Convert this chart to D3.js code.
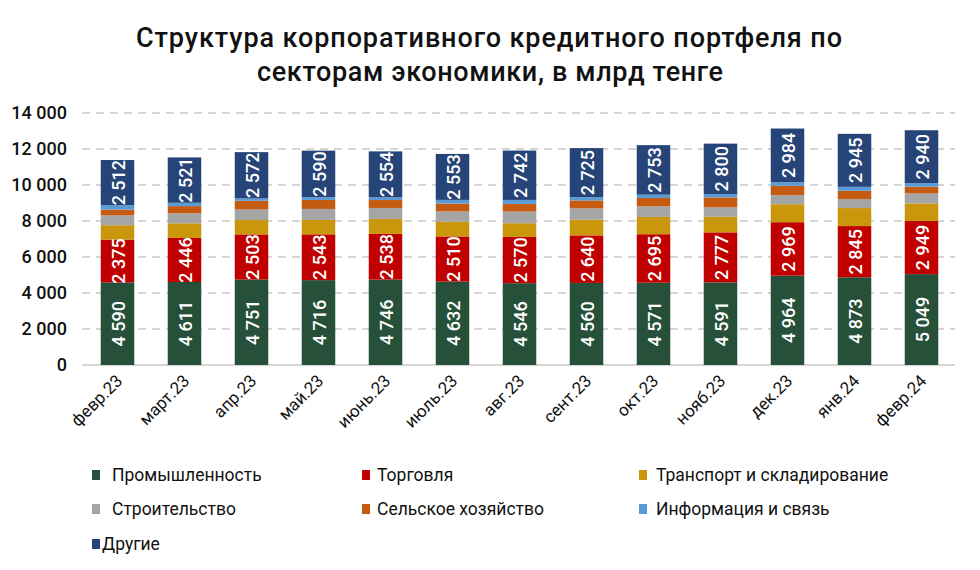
<!DOCTYPE html>
<html><head><meta charset="utf-8">
<script src="https://cdn.jsdelivr.net/npm/d3@7"></script>
<style>
body{margin:0;background:#fff;}
text{font-family:"Roboto","Noto Sans",sans-serif;}
</style></head>
<body>
<svg id="c" width="980" height="570"></svg>
<script>
const months = ["февр.23","март.23","апр.23","май.23","июнь.23","июль.23","авг.23","сент.23","окт.23","нояб.23","дек.23","янв.24","февр.24"];
const seriesNames = ["Промышленность","Торговля","Транспорт и складирование","Строительство","Сельское хозяйство","Информация и связь","Другие"];
const industry     = [4590,4611,4751,4716,4746,4632,4546,4560,4571,4591,4964,4873,5049];
const trade        = [2375,2446,2503,2543,2538,2510,2570,2640,2695,2777,2969,2845,2949];
const transport    = [800,815,800,800,830,815,760,870,960,870,1000,1000,980];
const construction = [550,555,590,610,610,575,650,630,590,520,500,500,555];
const agriculture  = [320,400,480,500,440,440,425,440,460,555,520,460,370];
const infoComm     = [240,185,130,150,150,200,220,185,185,185,200,220,200];
const others       = [2512,2521,2572,2590,2554,2553,2742,2725,2753,2800,2984,2945,2940];
const yTicks = [0,2000,4000,6000,8000,10000,12000,14000];
const labeled = [true,true,false,false,false,false,true];

const colors = ["#27503a","#c00000","#c9960c","#a5a5a5","#c55a11","#5b9bd5","#264478"];
const seriesData = [industry,trade,transport,construction,agriculture,infoComm,others];

const svg = d3.select("#c");
const fmt = v => d3.format(",")(v).replace(/,/g," ");

// title
svg.append("text").attr("x",489).attr("y",47).attr("text-anchor","middle")
  .attr("font-size",27).attr("font-weight",500).attr("fill","#111")
  .attr("textLength",706).attr("lengthAdjust","spacing")
  .text("Структура корпоративного кредитного портфеля по");
svg.append("text").attr("x",490).attr("y",81).attr("text-anchor","middle")
  .attr("font-size",27).attr("font-weight",500).attr("fill","#111")
  .attr("textLength",466).attr("lengthAdjust","spacing")
  .text("секторам экономики, в млрд тенге");

const x = d3.scaleBand().domain(months).range([84,955]).paddingInner(0.5).paddingOuter(0.25);
const y = d3.scaleLinear().domain([0,14000]).range([365,113]);

// grid
const grid = svg.append("g");
grid.selectAll("line").data(yTicks.filter(t=>t>0)).join("line")
  .attr("x1",82).attr("x2",955).attr("y1",d=>y(d)).attr("y2",d=>y(d))
  .attr("stroke","#c8c8c8").attr("stroke-width",1.3).attr("stroke-dasharray","8,6");
svg.append("line").attr("x1",82).attr("x2",955).attr("y1",y(0)).attr("y2",y(0))
  .attr("stroke","#c8c8c8").attr("stroke-width",1.3);

// y axis
const yAxis = d3.axisLeft(y).tickValues(yTicks).tickSize(0).tickPadding(0).tickFormat(fmt);
const ya = svg.append("g").attr("transform","translate(67,0)").call(yAxis);
ya.select(".domain").remove();
ya.selectAll("text").attr("font-size",18).attr("fill","#111").attr("font-weight",500)
  .attr("font-family","Roboto, sans-serif");

// stack
const rows = months.map((m,i)=>{
  const r={month:m};
  seriesNames.forEach((s,j)=>r[s]=seriesData[j][i]);
  return r;
});
const stack = d3.stack().keys(seriesNames)(rows);

const layers = svg.append("g").selectAll("g").data(stack).join("g")
  .attr("fill",(d,i)=>colors[i]);
layers.selectAll("rect").data(d=>d).join("rect")
  .attr("x",d=>x(d.data.month)).attr("width",x.bandwidth())
  .attr("y",d=>y(d[1])).attr("height",d=>y(d[0])-y(d[1]));

// labels
stack.forEach((layer,i)=>{
  if(!labeled[i]) return;
  svg.append("g").selectAll("text").data(layer).join("text")
    .attr("transform",d=>`translate(${x(d.data.month)+x.bandwidth()/2+1},${(y(d[0])+y(d[1]))/2}) rotate(-90)`)
    .attr("text-anchor","middle").attr("dy","0.36em")
    .attr("font-size",18).attr("font-weight",500).attr("fill","#fff")
    .text(d=>fmt(d[1]-d[0]));
});

// x axis labels
const xAxis = d3.axisBottom(x).tickSize(0).tickPadding(0);
const xa = svg.append("g").attr("transform","translate(0,378)").call(xAxis);
xa.select(".domain").remove();
xa.selectAll("text").attr("font-size",17).attr("fill","#111")
  .attr("text-anchor","end").attr("dy",0).attr("y",0)
  .attr("transform","translate(6,4) rotate(-45)");

// legend
const legPos = [[92,475],[362,475],[639,475],[92,509],[362,509],[639,509],[92,544]];
const legTextOff = [20,15,17,20,15,17,10];
const leg = svg.append("g").selectAll("g").data(seriesNames).join("g")
  .attr("transform",(d,i)=>`translate(${legPos[i][0]},${legPos[i][1]})`);
leg.append("rect").attr("x",0).attr("y",-5).attr("width",8).attr("height",10).attr("fill",(d,i)=>colors[i]);
leg.append("text").attr("x",(d,i)=>legTextOff[i]).attr("y",0).attr("dy","0.35em")
  .attr("font-size",17.5).attr("fill","#111").text(d=>d);
</script>
</body></html>
